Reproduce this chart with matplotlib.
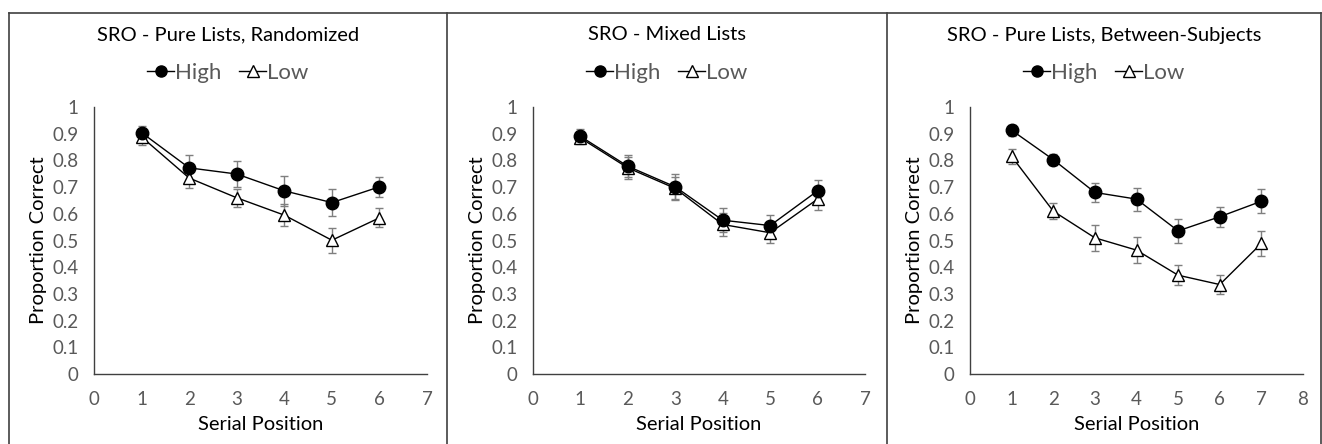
import numpy as np
import matplotlib.pyplot as plt
from matplotlib.lines import Line2D

plt.rcParams['font.family'] = ['Lato', 'DejaVu Sans']

titles = ["SRO - Pure Lists, Randomized", "SRO - Mixed Lists",
          "SRO - Pure Lists, Between-Subjects"]

# panel 1
pos1 = [1, 2, 3, 4, 5, 6]
high1 = [0.904, 0.772, 0.749, 0.686, 0.642, 0.701]
high1_err = [0.025, 0.047, 0.048, 0.057, 0.051, 0.037]
low1 = [0.888, 0.734, 0.660, 0.595, 0.501, 0.585]
low1_err = [0.031, 0.037, 0.034, 0.041, 0.047, 0.036]

# panel 2
pos2 = [1, 2, 3, 4, 5, 6]
high2 = [0.890, 0.778, 0.701, 0.576, 0.556, 0.686]
high2_err = [0.029, 0.041, 0.047, 0.044, 0.041, 0.042]
low2 = [0.884, 0.772, 0.695, 0.560, 0.529, 0.655]
low2_err = [0.018, 0.040, 0.044, 0.044, 0.038, 0.039]

# panel 3
pos3 = [1, 2, 3, 4, 5, 6, 7]
high3 = [0.913, 0.803, 0.680, 0.655, 0.536, 0.589, 0.647]
high3_err = [0.020, 0.022, 0.037, 0.043, 0.046, 0.037, 0.045]
low3 = [0.815, 0.610, 0.510, 0.464, 0.370, 0.335, 0.489]
low3_err = [0.029, 0.031, 0.049, 0.050, 0.037, 0.037, 0.046]

xmax = [7, 7, 8]
lefts = [94, 533, 970]
rights = [427, 865, 1303]

W, H = 1322, 444
fig = plt.figure(figsize=(W / 100, H / 100), dpi=100)

# panel borders
top = 1 - 13 / H
xs = [9 / W, 447 / W, 887 / W, 1321 / W]
fig.add_artist(Line2D([xs[0], xs[-1]], [top, top], color='#404040', lw=1.2))
for x in xs:
    fig.add_artist(Line2D([x, x], [0, top], color='#404040', lw=1.2))

panels = [(pos1, high1, high1_err, low1, low1_err),
          (pos2, high2, high2_err, low2, low2_err),
          (pos3, high3, high3_err, low3, low3_err)]

tick_col = '#595959'
for i, (pos, hi, hi_e, lo, lo_e) in enumerate(panels):
    l = lefts[i] / W
    w = (rights[i] - lefts[i]) / W
    b = 1 - 374 / H
    h = (374 - 107) / H
    ax = fig.add_axes([l, b, w, h])
    ax.errorbar(pos, lo, yerr=lo_e, fmt='none', ecolor='#7f7f7f',
                elinewidth=1, capsize=2.8, capthick=1, zorder=2)
    ax.errorbar(pos, hi, yerr=hi_e, fmt='none', ecolor='#7f7f7f',
                elinewidth=1, capsize=2.8, capthick=1, zorder=2)
    ax.plot(pos, lo, '-', color='black', lw=1.0, marker='^', ms=9,
            mfc='white', mec='black', mew=1.0, zorder=3)
    ax.plot(pos, hi, '-', color='black', lw=1.0, marker='o', ms=9,
            mfc='black', mec='black', zorder=4)
    ax.set_xlim(0, xmax[i])
    ax.set_ylim(0, 1)
    ax.set_xticks(range(0, xmax[i] + 1))
    ax.set_yticks(np.arange(0, 1.01, 0.1))
    ax.set_yticklabels(['0'] + ['%.1f' % v for v in np.arange(0.1, 0.95, 0.1)] + ['1'])
    ax.tick_params(length=0, labelsize=13.5, labelcolor=tick_col)
    ax.tick_params(axis='y', pad=11)
    ax.tick_params(axis='x', pad=12)
    for s in ['top', 'right']:
        ax.spines[s].set_visible(False)
    for s in ['left', 'bottom']:
        ax.spines[s].set_color('#404040')
        ax.spines[s].set_linewidth(1.0)
    ax.set_xlabel('Serial Position', fontsize=14.5, labelpad=6)
    ax.set_ylabel('Proportion Correct', fontsize=14.5, labelpad=4)

    cx = (xs[i] + xs[i + 1]) / 2
    fig.text(cx, 1 - 35 / H, titles[i], ha='center', va='center', fontsize=14.5)
    handles = [Line2D([], [], color='black', lw=1.0, marker='o', ms=8, mfc='black'),
               Line2D([], [], color='black', lw=1.0, marker='^', ms=8, mfc='white')]
    fig.legend(handles, ['High', 'Low'], loc='center', ncol=2,
               bbox_to_anchor=(cx, 1 - 73 / H), frameon=False, fontsize=16,
               handlelength=1.2, handletextpad=0.05, columnspacing=0.8,
               labelcolor=tick_col, borderpad=0)

fig.savefig('out.png', dpi=100)
